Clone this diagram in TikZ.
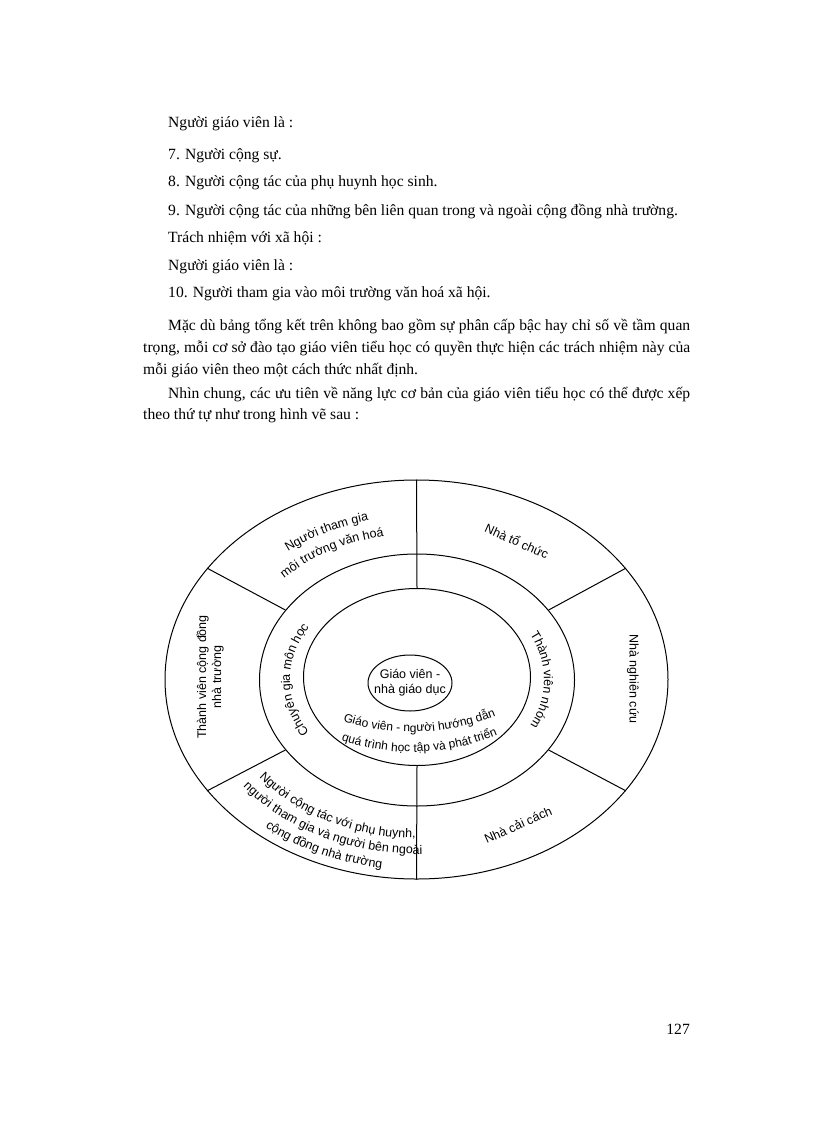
\documentclass[tikz,border=0pt]{standalone}
\usepackage{fontspec}
\setmainfont{Liberation Serif}
\newfontfamily\diagfont{Liberation Sans}
\usetikzlibrary{shapes.geometric, decorations.text}
\tikzset{
  ring/.style={draw, ellipse, line width=1pt, inner sep=0pt},
  divider/.style={line width=1pt},
  bodyline/.style={anchor=base west, inner sep=0pt, font=\fontsize{15.6}{18}\selectfont},
  seglabel/.style={align=center, inner sep=0pt, font=\diagfont\fontsize{12.5}{15}\selectfont},
  curvedlabel/.style={decorate, decoration={text along path, text align=center,
    text={|\diagfont\fontsize{12.5}{15}\selectfont|#1}}},
}

\begin{document}
\begin{tikzpicture}[x=1pt, y=1pt]
	\useasboundingbox (0,0) rectangle (816,-1123);
	% Text of the page:
	\node[bodyline] (l1) at (168,-128) {Người giáo viên là :};
	\node[bodyline] (l2) at (168,-160) {7. Người cộng sự.};
	\node[bodyline] (l3) at (168,-187) {8. Người cộng tác của phụ huynh học sinh.};
	\node[bodyline] (l4) at (168,-215) {9. Người cộng tác của những bên liên quan trong và ngoài cộng đồng nhà trường.};
	\node[bodyline] (l5) at (168,-242) {Trách nhiệm với xã hội :};
	\node[bodyline] (l6) at (168,-270) {Người giáo viên là :};
	\node[bodyline] (l7) at (168,-297) {10. Người tham gia vào môi trường văn hoá xã hội.};
	\node[bodyline] (l8) at (168,-330) {\makebox[522pt][s]{Mặc dù bảng tổng kết trên không bao gồm sự phân cấp bậc hay chỉ số về tầm quan}};
	\node[bodyline] (l9) at (143,-352) {\makebox[547pt][s]{trọng, mỗi cơ sở đào tạo giáo viên tiểu học có quyền thực hiện các trách nhiệm này của}};
	\node[bodyline] (l10) at (143,-374) {mỗi giáo viên theo một cách thức nhất định.};
	\node[bodyline] (l11) at (168,-398) {\makebox[522pt][s]{Nhìn chung, các ưu tiên về năng lực cơ bản của giáo viên tiểu học có thể được xếp}};
	\node[bodyline] (l12) at (143,-419) {theo thứ tự như trong hình vẽ sau :};
	\node[bodyline, anchor=base east] (pageno) at (690,-1034) {127};

	% Rings and dividers:
	\coordinate (ctr) at (417,-680);
	\node[ring, minimum width=503pt, minimum height=399pt] (outer) at (416.5,-679.5) {};
	\node[ring, minimum width=315pt, minimum height=252pt] (middle) at (ctr) {};
	\node[ring, minimum width=227pt, minimum height=177pt] (inner) at (417,-677) {};
	\node[ring, minimum width=84pt, minimum height=56pt] (core) at (410,-683) {};
	\draw[divider] (outer.90) -- (inner.90);
	\draw[divider] (outer.270) -- (inner.270);
	\draw[divider] (outer.28) -- (middle.28);
	\draw[divider] (outer.152) -- (middle.152);
	\draw[divider] (outer.208) -- (middle.208);
	\draw[divider] (outer.332) -- (middle.332);

	% Labels:
	\node[seglabel] (coretext) at (core) {Giáo viên -\\nhà giáo dục};
	\node[seglabel, rotate=-24] (organizer) at (517,-541) {Nhà tổ chức};
	\node[seglabel, rotate=-90] (researcher) at (633,-679) {Nhà nghiên cứu};
	\node[seglabel, rotate=90] (community) at (210,-677) {Thành viên cộng đồng\\nhà trường};
	\node[seglabel, rotate=24] (reformer) at (518,-825) {Nhà cải cách};
	% curved ones
	\path[curvedlabel={Người tham gia}]
		([shift={(147:207pt and 164pt)}]ctr) arc[start angle=147, end angle=87, x radius=207, y radius=164];
	\path[curvedlabel={môi trường văn hoá}]
		([shift={(150:185pt and 146pt)}]ctr) arc[start angle=150, end angle=88, x radius=185, y radius=146];
	\path[curvedlabel={Người cộng tác với phụ huynh,}]
		([shift={(208:200pt and 158pt)}]ctr) arc[start angle=208, end angle=278, x radius=200, y radius=158];
	\path[curvedlabel={người tham gia và người bên ngoài}]
		([shift={(209:220pt and 174pt)}]ctr) arc[start angle=209, end angle=279, x radius=220, y radius=174];
	\path[curvedlabel={cộng đồng nhà trường}]
		([shift={(210:240pt and 190pt)}]ctr) arc[start angle=210, end angle=280, x radius=240, y radius=190];
	\path[curvedlabel={Chuyên gia môn học}]
		([shift={(240:127pt and 100pt)}]ctr) arc[start angle=240, end angle=120, x radius=127, y radius=100];
	\path[curvedlabel={Thành viên nhóm}]
		([shift={(60:127pt and 100pt)}]ctr) arc[start angle=60, end angle=-60, x radius=127, y radius=100];
	\path[decorate, decoration={text along path, text align=center,
		text={|\diagfont\fontsize{12}{14}\selectfont|Giáo viên - người hướng dẫn}}]
		([shift={(240:225pt)}]412,-507) arc[start angle=240, end angle=304, radius=225];
	\path[decorate, decoration={text along path, text align=center,
		text={|\diagfont\fontsize{12}{14}\selectfont|quá trình học tập và phát triển}}]
		([shift={(240:225pt)}]412,-527) arc[start angle=240, end angle=304, radius=225];
\end{tikzpicture}
\end{document}
